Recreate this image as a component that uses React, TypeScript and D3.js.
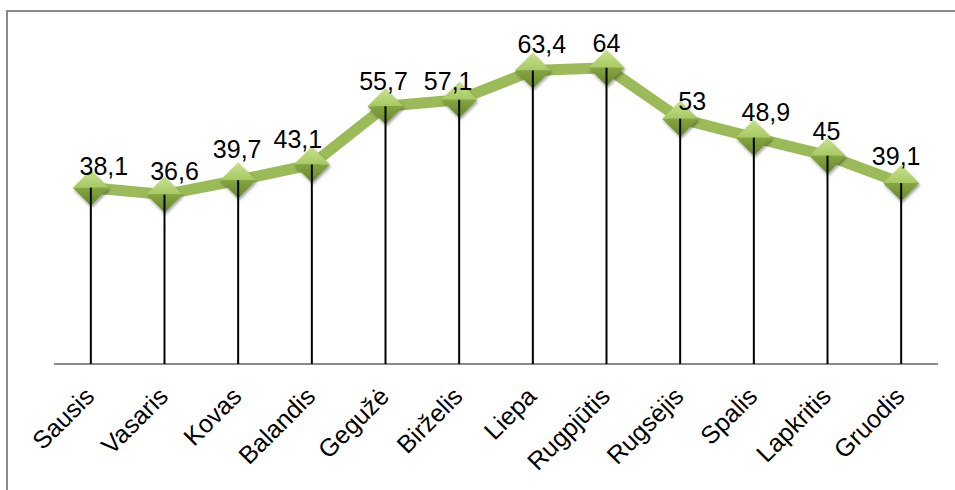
import React from "react";
import * as d3 from "d3";

const categories = ["Sausis", "Vasaris", "Kovas", "Balandis", "Gegužė", "Birželis", "Liepa", "Rugpjūtis", "Rugsėjis", "Spalis", "Lapkritis", "Gruodis"];
const values = [38.1, 36.6, 39.7, 43.1, 55.7, 57.1, 63.4, 64, 53, 48.9, 45, 39.1];
const valueLabels = ["38,1", "36,6", "39,7", "43,1", "55,7", "57,1", "63,4", "64", "53", "48,9", "45", "39,1"];
// label placement nudges (layout only)
const labelDx = [13, 10, -1, -14, -2, -11, 9, 0, 12, 12, -1, -5];
const labelDy = [-13, -15, -22, -17, -16, -10, -18, -16, -9, -17, -16, -18];

const W = 955;
const H = 490;
const axisY = 364;
const topY = 40;

export default function App() {
  const x = d3.scaleBand<string>().domain(categories).range([54, 938]).padding(0);
  const y = d3.scaleLinear().domain([0, 70]).range([axisY, topY]);
  const cx = (c: string) => (x(c) as number) + x.bandwidth() / 2;
  const line = d3
    .line<number>()
    .x((_, i) => cx(categories[i]))
    .y((d) => y(d));
  const hw = 18;
  const hh = 18;
  const font = "Liberation Sans, Arial, sans-serif";
  return (
    <svg
      width={W}
      height={H}
      style={{ position: "fixed", left: 0, top: 0, background: "#fff" }}
    >
      <defs>
        <linearGradient id="gTop" x1="0" y1="0" x2="0" y2="1">
          <stop offset="0" stopColor="#c8e290" />
          <stop offset="1" stopColor="#a6c962" />
        </linearGradient>
        <linearGradient id="gBot" x1="0" y1="0" x2="0" y2="1">
          <stop offset="0" stopColor="#84a640" />
          <stop offset="1" stopColor="#66862a" />
        </linearGradient>
        <filter id="shadow" x="-50%" y="-50%" width="200%" height="200%">
          <feDropShadow dx="1" dy="2" stdDeviation="1.5" floodColor="#000" floodOpacity="0.4" />
        </filter>
      </defs>
      <rect x={7} y={11} width={W + 20} height={H + 20} fill="none" stroke="#8a8a8a" strokeWidth={2} />
      <line x1={54} x2={938} y1={axisY} y2={axisY} stroke="#8a8a8a" strokeWidth={2} />
      <path d={line(values) || ""} fill="none" stroke="#9bbb59" strokeWidth={11} strokeLinejoin="round" />
      {values.map((v, i) => {
        const px = cx(categories[i]);
        const py = y(v);
        return (
          <g key={"m" + i} filter="url(#shadow)">
            <path d={`M${px - hw},${py} L${px},${py - hh} L${px + hw},${py} Z`} fill="url(#gTop)" />
            <path d={`M${px - hw},${py} L${px + hw},${py} L${px},${py + hh} Z`} fill="url(#gBot)" />
          </g>
        );
      })}
      {values.map((v, i) => {
        const px = cx(categories[i]);
        return <line key={"d" + i} x1={px} x2={px} y1={y(v)} y2={axisY} stroke="#000" strokeWidth={2} />;
      })}
      {values.map((v, i) => {
        const px = cx(categories[i]);
        return (
          <text
            key={"l" + i}
            x={px + labelDx[i]}
            y={y(v) + labelDy[i]}
            textAnchor="middle"
            fontFamily={font}
            fontSize={25}
            fill="#000"
          >
            {valueLabels[i]}
          </text>
        );
      })}
      {categories.map((c) => {
        const px = cx(c);
        return (
          <text
            key={"c" + c}
            transform={`translate(${px + 5},${398}) rotate(-45)`}
            textAnchor="end"
            fontFamily={font}
            fontSize={25}
            fill="#000"
          >
            {c}
          </text>
        );
      })}
    </svg>
  );
}
